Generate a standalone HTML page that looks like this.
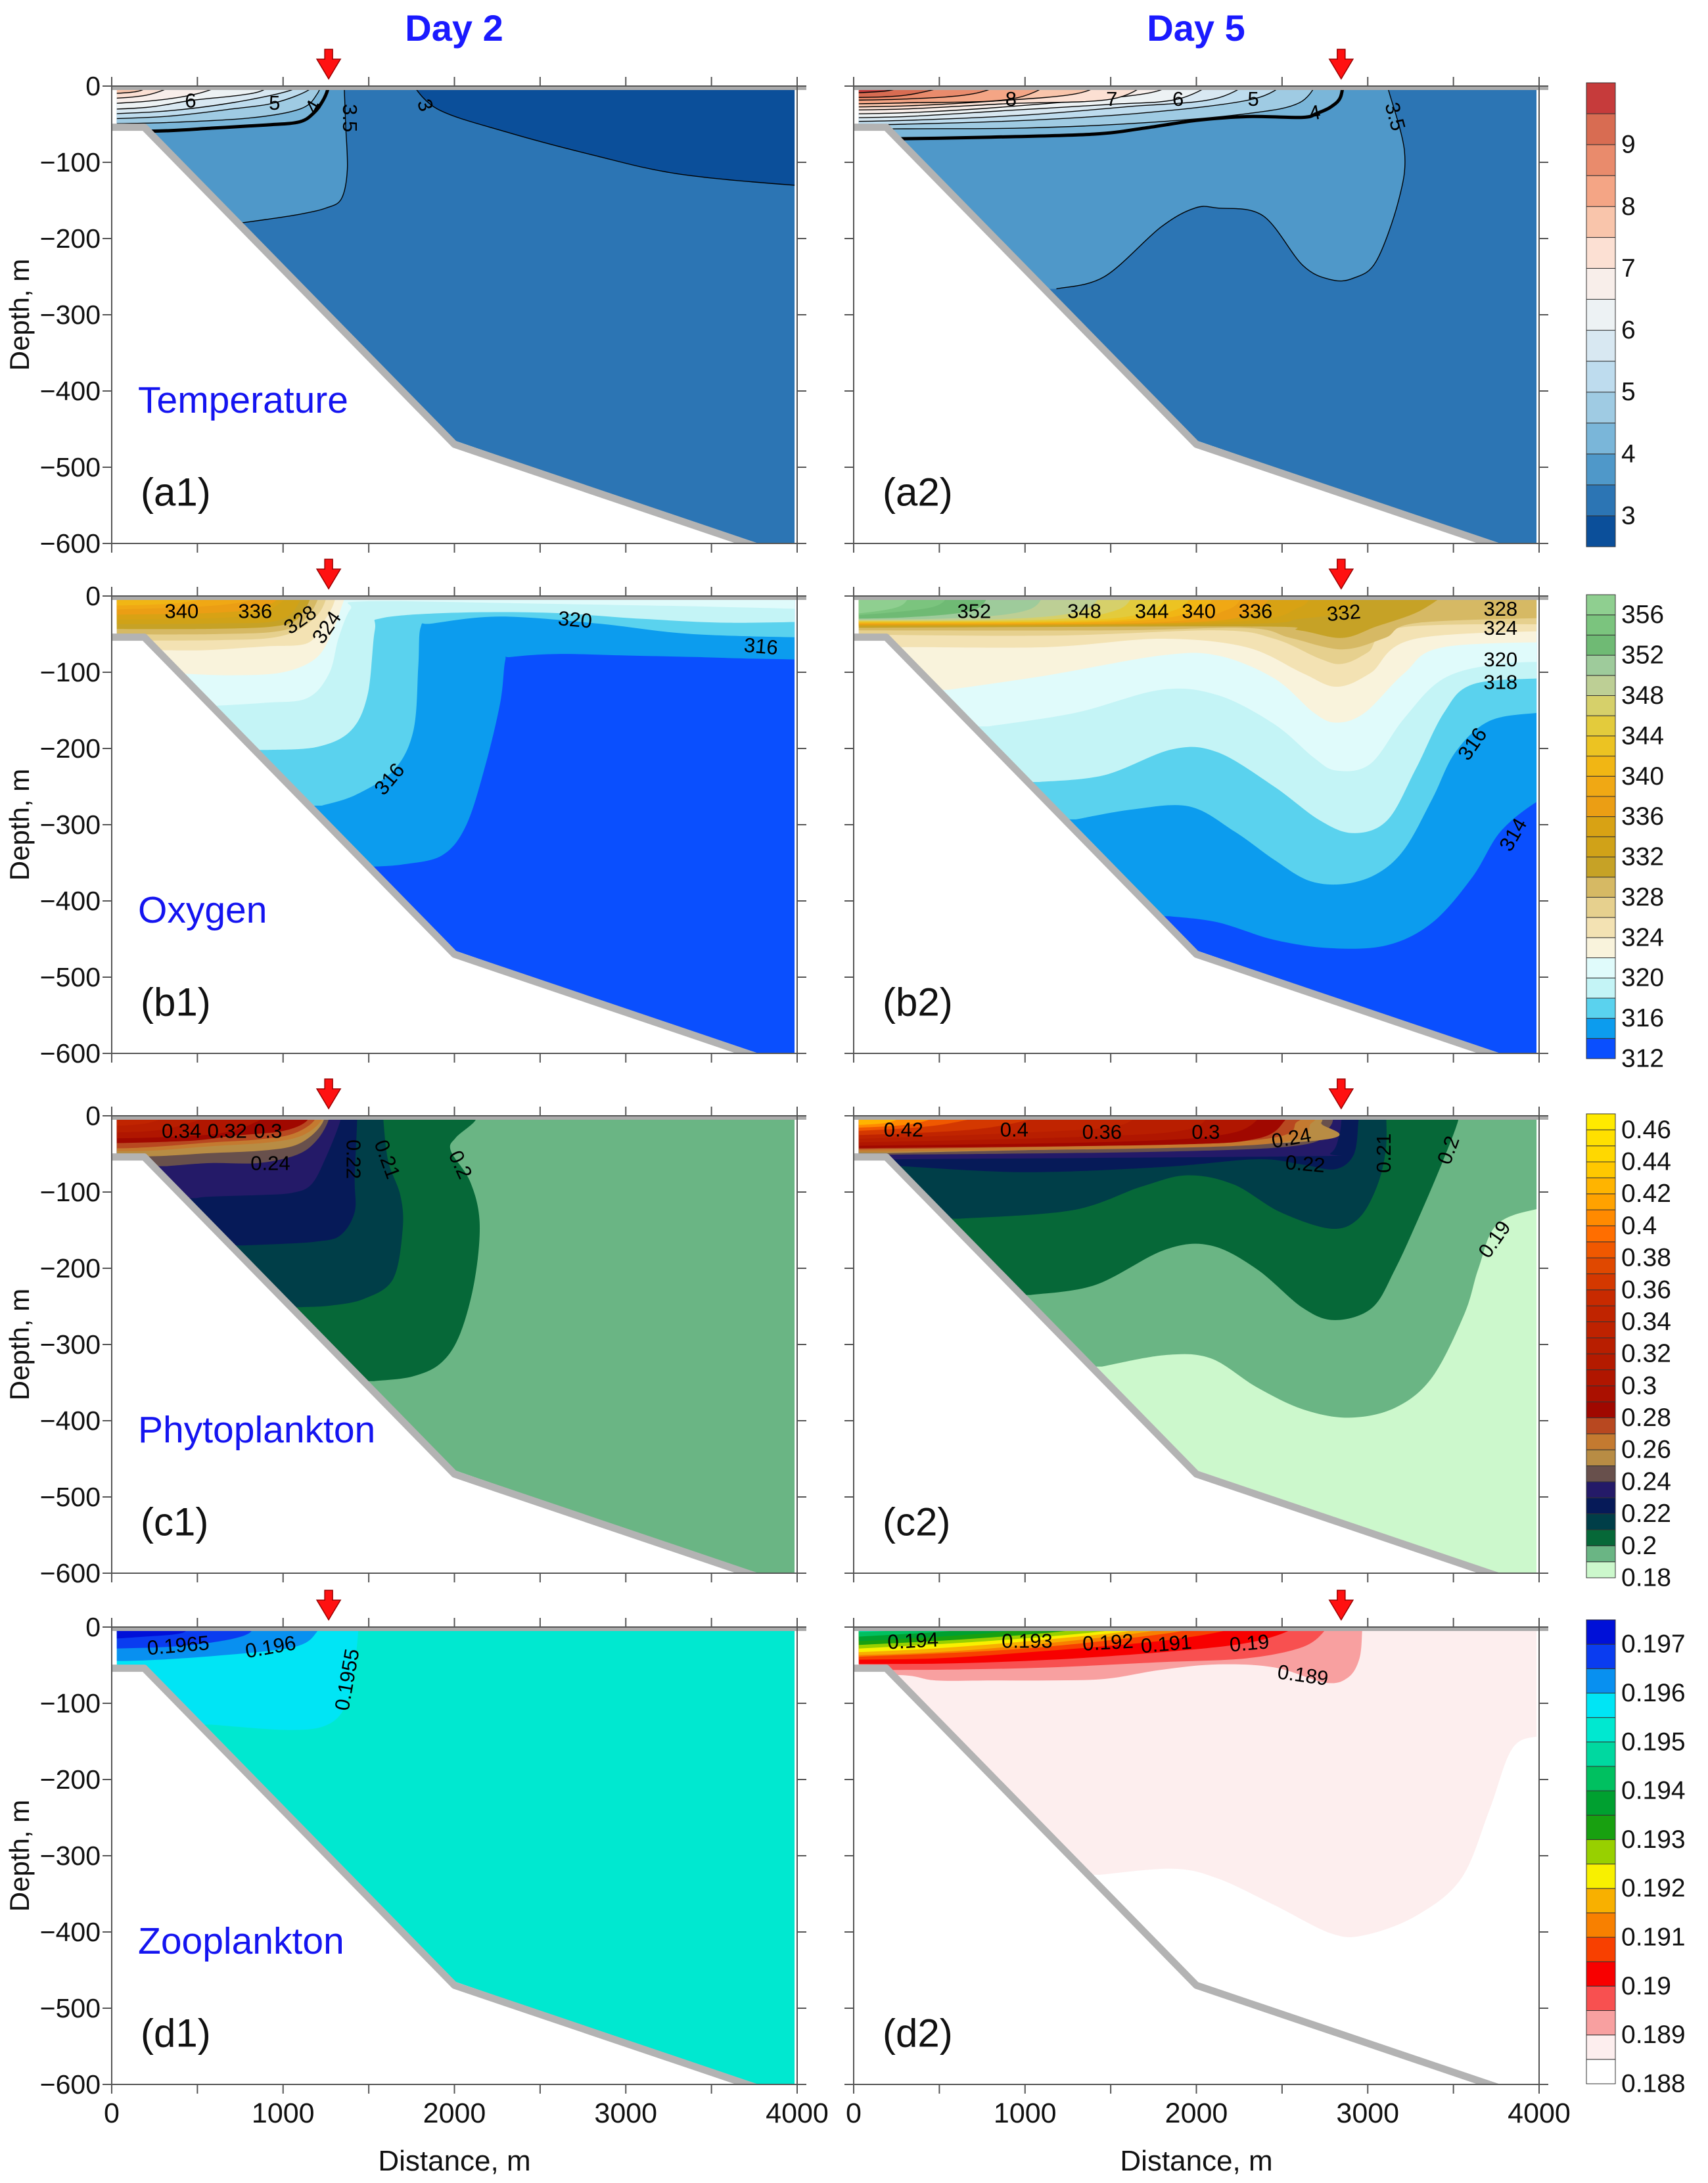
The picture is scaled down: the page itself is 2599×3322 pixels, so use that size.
<!DOCTYPE html>
<html><head><meta charset="utf-8"><title>Day 2 / Day 5 sections</title>
<style>html,body{margin:0;padding:0;background:#fff}svg{display:block;font-family:"Liberation Sans",Arial,sans-serif}</style>
</head><body>
<svg id="chart" width="2599" height="3322" viewBox="0 0 2599 3322" xmlns="http://www.w3.org/2000/svg">
<rect x="0" y="0" width="2599" height="3322" fill="#fff"/>
<text x="691" y="62" font-size="56" font-weight="bold" fill="#1a1aff" text-anchor="middle">Day 2</text>
<text x="1820" y="62" font-size="56" font-weight="bold" fill="#1a1aff" text-anchor="middle">Day 5</text>
</svg>
<script>
// ---- colour scales (bins, bottom -> top) ----
const tempColors=['#0b4f9a','#2c75b4','#4f98c9','#7ab6d9','#9fcbe3','#bedcee','#d8e8f2','#edf2f4','#f8eeea','#fce0d3','#f9c5ab','#f4a585','#e98b6c','#d86c52','#c63b3b'];
const tempTicks=[3,4,5,6,7,8,9];
const oxyColors=['#0a4ffe','#0c9cee','#5ad2ee','#c4f4f6','#e0fbfb','#f9f3dc','#f3e2b3','#e6d08e','#d6b964','#c6a226','#d0a218','#d8a214','#eb9e14','#f0a814','#f1b614','#ecc322','#e3cb3c','#d6d06a','#bdcf95','#9ecb9b','#6fba74','#7bc47e','#8fcf90'];
const oxyTicks=[312,316,320,324,328,332,336,340,344,348,352,356];
const phyColors=['#ccf8cc','#6ab584','#066838','#003e48','#061a58','#241a68','#68504c','#b88c44','#c47a30','#b84820','#a00800','#aa1000','#b01600','#b41a00','#b81e00','#be2200','#c02400','#c82a00','#d43800','#e04800','#f05800','#ff6e00','#ff8a00','#ffa200','#ffb400','#ffc800','#ffd800','#ffe000','#ffea00'];
const phyTicks=[0.18,0.2,0.22,0.24,0.26,0.28,0.3,0.32,0.34,0.36,0.38,0.4,0.42,0.44,0.46];
const zooColors=['#ffffff','#fdeeee','#f8a0a0','#f85050','#f80000','#f84000','#f88000','#f8b000','#f8f000','#98d000','#18a010','#00a030','#00c060','#00d8a0','#00e8d0','#00e5f5','#0890f0','#0a3cf0','#0010d8'];
const zooTicks=[0.188,0.189,0.19,0.191,0.192,0.193,0.194,0.195,0.196,0.197];

// ---- axes ----
const xTicks=[0,500,1000,1500,2000,2500,3000,3500,4000];
const xTickLabels=[0,1000,2000,3000,4000];
const yTicks=[0,100,200,300,400,500,600];
const waterOutline=[[30,5],[3985,5],[3985,600],[3750,600],[2000,465],[190,50],[30,50]];
const bathyLine=[[0,54],[190,54],[2000,470],[3762,604]];
const arrowDist=[1266,2845];

// ---- contour boundaries [distance m, depth m] ----
const a1Layers=[
 [2.5,'tr',[[1730,-10],[1900,30],[2300,60],[2800,90],[3300,115],[3980,130],[4200,130]]],
 [3.5,'tl',[[740,180],[900,175],[1100,168],[1250,160],[1340,148],[1375,110],[1365,50],[1355,-10]]],
 [4,'tl',[[-200,60],[270,59],[600,55],[900,51],[1095,47],[1180,35],[1230,20],[1260,5],[1270,-10]]],
 [4.5,'tl',[[-200,50],[300,48],[800,42],[1100,30],[1200,10],[1230,-10]]],
 [5,'tl',[[-200,44],[300,40],[700,30],[950,22],[1150,5],[1180,-10]]],
 [5.5,'tl',[[-200,38],[300,33],[700,22],[1050,5],[1100,-10]]],
 [6,'tl',[[-200,32],[200,28],[460,19],[850,8],[950,-10]]],
 [6.5,'tl',[[-200,25],[200,20],[500,10],[750,-10]]],
 [7,'tl',[[-200,18],[200,12],[450,-10]]],
 [7.5,'tl',[[-200,11],[150,7],[250,-10]]]
];
const a2Layers=[
 [3.5,'tl',[[1183,266],[1463,250],[1793,185],[1992,160],[2124,160],[2388,170],[2620,235],[2785,254],[2916,252],[3049,230],[3180,150],[3214,85],[3115,0],[3115,-10]]],
 [4,'tl',[[-200,70],[307,69],[800,67],[1400,63],[1700,55],[2000,45],[2300,40],[2620,41],[2700,36],[2780,28],[2840,15],[2860,-10]]],
 [4.5,'tl',[[-200,57],[300,56],[1000,55],[1700,48],[2300,36],[2600,22],[2720,-10]]],
 [5,'tl',[[-200,52],[300,50],[1000,45],[1700,35],[2332,17],[2550,-10]]],
 [5.5,'tl',[[-200,47],[300,45],[1000,38],[1600,27],[2100,17],[2350,-10]]],
 [6,'tl',[[-200,42],[300,40],[900,32],[1500,24],[1893,17],[2150,-10]]],
 [6.5,'tl',[[-200,37],[300,35],[900,27],[1700,10],[1900,-10]]],
 [7,'tl',[[-200,32],[300,30],[900,23],[1506,17],[1750,-10]]],
 [7.5,'tl',[[-200,28],[300,26],[800,20],[1300,10],[1500,-10]]],
 [8,'tl',[[-200,24],[300,22],[918,17],[1200,-10]]],
 [8.5,'tl',[[-200,19],[300,17],[700,10],[950,-10]]],
 [9,'tl',[[-200,15],[300,12],[700,-10]]],
 [9.5,'tl',[[-200,10],[200,6],[400,-10]]]
];
const b1Layers=[
 [314,'tl',[[1535,355],[1704,352],[1930,340],[2070,300],[2183,220],[2268,139],[2296,85],[2330,80],[2600,76],[3000,78],[3400,80],[3700,82],[4200,84]]],
 [316,'tl',[[1225,275],[1423,261],[1648,228],[1761,176],[1789,92],[1803,41],[1873,36],[2268,27],[2831,36],[3394,50],[4200,55]]],
 [318,'tl',[[901,202],[1197,198],[1394,177],[1493,130],[1535,45],[1577,29],[1986,22],[2549,22],[3100,30],[3600,35],[4200,33]]],
 [320,'tl',[[600,144],[900,140],[1141,134],[1268,102],[1324,55],[1394,17],[1479,7],[2500,10],[3500,14],[4200,18]]],
 [322,'tl',[[417,102],[700,104],[1000,100],[1200,80],[1300,40],[1340,15],[1380,-10]]],
 [324,'tl',[[282,71],[549,71],[900,66],[1141,62],[1230,36],[1290,13],[1320,-10]]],
 [326,'tl',[[-200,58],[600,58],[1000,52],[1200,25],[1270,-10]]],
 [328,'tl',[[-200,50],[600,50],[1000,45],[1150,25],[1230,-10]]],
 [330,'tl',[[-200,43],[600,43],[1000,38],[1120,20],[1180,-10]]],
 [332,'tl',[[-200,37],[600,36],[1000,30],[1130,-10]]],
 [334,'tl',[[-200,31],[600,29],[900,20],[1080,-10]]],
 [336,'tl',[[-200,25],[600,22],[900,13],[1030,-10]]],
 [338,'tl',[[-200,19],[500,14],[800,6],[950,-10]]],
 [340,'tl',[[-200,13],[400,9],[750,-10]]]
];
const b2Layers=[
 [314,'tl',[[1843,420],[2124,428],[2454,451],[2785,462],[3115,458],[3379,428],[3610,369],[3775,309],[4000,268],[4200,250]]],
 [316,'tl',[[1298,293],[1628,280],[1959,276],[2223,309],[2454,346],[2652,373],[2851,378],[3049,365],[3214,332],[3379,265],[3511,205],[3709,164],[4000,153],[4200,150]]],
 [318,'tl',[[1083,244],[1463,235],[1860,201],[2124,205],[2454,250],[2718,294],[2917,311],[3115,294],[3280,227],[3445,153],[3610,116],[4000,108],[4200,108]]],
 [320,'tl',[[786,171],[1298,153],[1793,123],[2124,130],[2454,168],[2685,212],[2818,229],[3016,220],[3214,160],[3445,108],[3775,89],[4200,86]]],
 [322,'tl',[[555,123],[1133,104],[1793,78],[2124,78],[2454,108],[2685,153],[2818,166],[2983,153],[3214,101],[3445,67],[4200,60]]],
 [324,'tl',[[307,67],[1133,67],[1793,56],[2289,67],[2619,101],[2818,119],[3016,101],[3280,56],[4200,45]]],
 [326,'tl',[[-200,50],[1133,52],[2124,45],[2454,56],[2718,82],[2851,89],[3000,74],[3200,41],[4200,37]]],
 [328,'tl',[[-200,45],[1500,45],[2300,42],[2550,55],[2850,70],[3100,55],[3300,35],[4200,28]]],
 [330,'tl',[[-200,42],[2300,40],[2600,45],[2850,55],[3050,40],[3300,20],[3500,-10]]],
 [332,'tl',[[-200,40],[2200,37],[2600,30],[2860,20],[2950,-10]]],
 [334,'tl',[[-200,39],[2100,35],[2600,15],[2650,-10]]],
 [336,'tl',[[-200,38],[1900,35],[2345,18],[2450,-10]]],
 [338,'tl',[[-200,37],[1700,35],[2180,18],[2280,-10]]],
 [340,'tl',[[-200,36],[1500,34],[2014,18],[2110,-10]]],
 [342,'tl',[[-200,35],[1400,33],[1880,18],[1980,-10]]],
 [344,'tl',[[-200,34],[1300,32],[1740,18],[1840,-10]]],
 [346,'tl',[[-200,33],[1100,31],[1540,18],[1640,-10]]],
 [348,'tl',[[-200,32],[900,30],[1346,18],[1450,-10]]],
 [350,'tl',[[-200,31],[600,29],[1020,18],[1120,-10]]],
 [352,'tl',[[-200,30],[300,28],[703,18],[800,-10]]],
 [354,'tl',[[-200,29],[450,15],[550,-10]]],
 [356,'tl',[[-200,28],[250,15],[330,-10]]]
];
const c1Layers=[
 [0.20,'tl',[[1530,348],[1754,342],[1923,324],[2035,285],[2119,214],[2147,139],[2091,86],[1979,46],[2007,29],[2119,7],[2140,-10]]],
 [0.21,'tl',[[1109,251],[1277,249],[1474,240],[1642,214],[1698,148],[1684,104],[1614,60],[1586,7],[1586,-10]]],
 [0.22,'tl',[[772,170],[996,168],[1193,165],[1333,157],[1418,126],[1418,82],[1432,7],[1432,-10]]],
 [0.23,'tl',[[491,108],[575,106],[856,104],[1053,101],[1165,90],[1249,55],[1333,7],[1333,-10]]],
 [0.24,'tl',[[323,66],[575,62],[856,62],[1081,51],[1193,33],[1263,7],[1263,-10]]],
 [0.25,'tl',[[-200,53],[239,53],[575,49],[856,46],[1053,40],[1165,26],[1235,7],[1240,-10]]],
 [0.26,'tl',[[-200,46],[200,46],[575,40],[912,35],[1109,26],[1221,7],[1225,-10]]],
 [0.27,'tl',[[-200,42],[150,42],[575,35],[856,31],[1053,24],[1179,7],[1180,-10]]],
 [0.28,'tl',[[-200,37],[435,33],[715,26],[996,20],[1137,7],[1140,-10]]],
 [0.30,'tl',[[-200,30],[300,28],[700,20],[1000,-10]]],
 [0.32,'tl',[[-200,22],[300,18],[700,-10]]],
 [0.34,'tl',[[-200,14],[200,10],[400,-10]]]
];
const c2Layers=[
 [0.19,'tl',[[1449,329],[1813,314],[2082,318],[2352,356],[2621,385],[2891,396],[3160,383],[3376,343],[3564,260],[3645,201],[3752,143],[3995,122],[4200,120]]],
 [0.20,'tl',[[1032,235],[1409,222],[1813,176],[2082,170],[2352,201],[2621,252],[2810,268],[3025,252],[3160,201],[3295,135],[3430,64],[3524,9],[3530,-10]]],
 [0.21,'tl',[[614,135],[1274,124],[1678,93],[1948,78],[2217,90],[2487,126],[2783,148],[2945,135],[3053,93],[3106,43],[3106,-10]]],
 [0.22,'tl',[[277,66],[1005,74],[1813,67],[2352,57],[2621,64],[2810,70],[2918,51],[2945,9],[2945,-10]]],
 [0.23,'tl',[[250,57],[2621,53],[2783,49],[2837,22],[2850,-10]]],
 [0.24,'tl',[[197,51],[1813,47],[2621,38],[2783,13],[2790,-10]]],
 [0.25,'tl',[[197,49],[2621,34],[2729,9],[2735,-10]]],
 [0.26,'tl',[[197,47],[2352,38],[2675,9],[2680,-10]]],
 [0.27,'tl',[[-200,45],[2217,34],[2594,7],[2600,-10]]],
 [0.28,'tl',[[-200,43],[1813,38],[2352,30],[2513,7],[2515,-10]]],
 [0.30,'tl',[[-200,40],[1544,34],[2217,22],[2406,-10]]],
 [0.32,'tl',[[-200,36],[1274,28],[1948,18],[2082,-10]]],
 [0.34,'tl',[[-200,32],[1005,22],[1544,13],[1678,-10]]],
 [0.36,'tl',[[-200,27],[735,17],[1274,-10]]],
 [0.38,'tl',[[-200,22],[466,13],[951,-10]]],
 [0.40,'tl',[[-200,17],[331,11],[601,-10]]],
 [0.42,'tl',[[-200,13],[197,9],[331,-10]]],
 [0.44,'tl',[[-200,9],[100,-10]]]
];
const d1Layers=[
 [0.1955,'tl',[[582,128],[1034,135],[1260,128],[1373,99],[1422,40],[1438,7],[1440,-10]]],
 [0.196,'tl',[[-200,44],[162,44],[646,37],[1066,26],[1195,7],[1200,-10]]],
 [0.1965,'tl',[[-200,29],[323,26],[646,18],[808,7],[810,-10]]],
 [0.197,'tl',[[-200,18],[162,13],[420,7],[425,-10]]]
];
const d2Layers=[
 [0.1885,'tl',[[1435,325],[1863,317],[2127,330],[2457,365],[2787,402],[2985,404],[3281,379],[3545,330],[3710,240],[3842,160],[4000,143],[4200,140]]],
 [0.189,'tl',[[-200,63],[280,63],[478,70],[808,70],[1138,70],[1468,68],[1797,56],[2127,49],[2457,53],[2754,73],[2886,66],[2952,41],[2968,3],[2970,-10]]],
 [0.1895,'tl',[[-200,56],[478,56],[1138,53],[1797,46],[2292,41],[2622,26],[2754,3],[2756,-10]]],
 [0.19,'tl',[[-200,48],[478,48],[1138,43],[1797,33],[2292,21],[2556,3],[2558,-10]]],
 [0.1905,'tl',[[-200,43],[478,41],[1138,31],[1797,18],[2193,3],[2195,-10]]],
 [0.191,'tl',[[-200,41],[808,31],[1468,18],[1962,3],[1965,-10]]],
 [0.1915,'tl',[[-200,38],[478,33],[1138,21],[1797,3],[1800,-10]]],
 [0.192,'tl',[[-200,35],[478,28],[1138,16],[1665,3],[1667,-10]]],
 [0.1925,'tl',[[-200,31],[808,18],[1534,3],[1536,-10]]],
 [0.193,'tl',[[-200,26],[643,16],[1303,3],[1305,-10]]],
 [0.1935,'tl',[[-200,21],[478,13],[973,3],[975,-10]]],
 [0.194,'tl',[[-200,15],[148,11],[643,3],[645,-10]]],
 [0.1945,'tl',[[-200,8],[313,3],[315,-10]]]
];
// contour labels [text, distance, depth, rotation]
const a1Labels=[['6',460,19,0],['5',950,22,0],['4',1175,27,-60],['3.5',1390,42,90],['3',1830,25,70]];
const a2Labels=[['8',918,17,0],['7',1506,17,0],['6',1893,17,0],['5',2332,17,0],['4',2690,35,-10],['3.5',3160,40,75]];
const b1Labels=[['340',408,20,0],['336',837,20,0],['328',1099,31,-35],['324',1254,41,-55],['320',2704,31,5],['316',3789,66,5],['316',1620,240,-50]];
const b2Labels=[['352',703,20,0],['348',1346,20,0],['344',1740,20,0],['340',2014,20,0],['336',2345,20,0],['332',2860,22,-5],['328',3775,17,0],['324',3775,42,0],['320',3775,83,0],['318',3775,113,0],['316',3610,194,-55],['314',3848,313,-60]];
const c1Labels=[['0.34',407,20,0],['0.32',674,20,0],['0.3',912,20,0],['0.24',926,62,0],['0.22',1412,57,90],['0.21',1608,57,70],['0.2',2035,64,65]];
const c2Labels=[['0.42',291,18,0],['0.4',937,18,0],['0.36',1449,21,0],['0.3',2055,21,0],['0.24',2554,29,-10],['0.22',2635,63,5],['0.21',3093,49,-90],['0.2',3470,45,-70],['0.19',3739,162,-55]];
const d1Labels=[['0.1965',388,24,-5],['0.196',927,26,-10],['0.1955',1373,69,-80]];
const d2Labels=[['0.194',346,18,-3],['0.193',1012,18,0],['0.192',1484,20,-3],['0.191',1824,22,-5],['0.19',2309,21,-5],['0.189',2622,63,8]];

const NS='http://www.w3.org/2000/svg';
const svg=document.getElementById('chart');
const X0=[170,1299], Y0=[131,907,1698,2476], PW=1043, PH=696;
function mk(tag,attrs,parent){const e=document.createElementNS(NS,tag);for(const k in attrs)e.setAttribute(k,attrs[k]);(parent||svg).appendChild(e);return e;}
function xs(m,c){return X0[c]+m/4000*PW;}
function ys(d,r){return Y0[r]+d/600*PH;}
function ptsStr(arr,c,r){return arr.map(p=>xs(p[0],c).toFixed(1)+','+ys(p[1],r).toFixed(1)).join(' ');}
// smooth Catmull-Rom path through screen points
function smoothD(arr,c,r){
 const P=arr.map(p=>[xs(p[0],c),ys(p[1],r)]);
 let d='M'+P[0][0].toFixed(1)+','+P[0][1].toFixed(1);
 for(let i=0;i<P.length-1;i++){
  const p0=P[Math.max(0,i-1)],p1=P[i],p2=P[i+1],p3=P[Math.min(P.length-1,i+2)];
  const c1x=p1[0]+(p2[0]-p0[0])/6,c1y=p1[1]+(p2[1]-p0[1])/6;
  const c2x=p2[0]-(p3[0]-p1[0])/6,c2y=p2[1]-(p3[1]-p1[1])/6;
  d+=' C'+c1x.toFixed(1)+','+c1y.toFixed(1)+' '+c2x.toFixed(1)+','+c2y.toFixed(1)+' '+p2[0].toFixed(1)+','+p2[1].toFixed(1);
 }
 return d;
}

const scales={
 temp:{vmin:2.5,step:0.5,colors:tempColors,ticks:tempTicks,fmt:v=>String(v)},
 oxy:{vmin:312,step:2,colors:oxyColors,ticks:oxyTicks,fmt:v=>String(v)},
 phy:{vmin:0.18,step:0.01,colors:phyColors,ticks:phyTicks,fmt:v=>String(+v.toFixed(2))},
 zoo:{vmin:0.188,step:0.0005,colors:zooColors,ticks:zooTicks,fmt:v=>String(+v.toFixed(3))}
};
function colorOf(s,v){const i=Math.round((v-s.vmin)/s.step);return s.colors[Math.max(0,Math.min(s.colors.length-1,i))];}

const panels=[
 {id:'a1',c:0,r:0,s:'temp',base:3,layers:a1Layers,labels:a1Labels,lines:true,name:'Temperature'},
 {id:'a2',c:1,r:0,s:'temp',base:3,layers:a2Layers,labels:a2Labels,lines:true},
 {id:'b1',c:0,r:1,s:'oxy',base:312,layers:b1Layers,labels:b1Labels,name:'Oxygen'},
 {id:'b2',c:1,r:1,s:'oxy',base:312,layers:b2Layers,labels:b2Labels},
 {id:'c1',c:0,r:2,s:'phy',base:0.19,layers:c1Layers,labels:c1Labels,name:'Phytoplankton'},
 {id:'c2',c:1,r:2,s:'phy',base:0.18,layers:c2Layers,labels:c2Labels},
 {id:'d1',c:0,r:3,s:'zoo',base:0.195,layers:d1Layers,labels:d1Labels,name:'Zooplankton'},
 {id:'d2',c:1,r:3,s:'zoo',base:0.188,layers:d2Layers,labels:d2Labels}
];
const defs=mk('defs',{});



panels.forEach(P=>{
 const c=P.c,r=P.r,S=scales[P.s];
 const g=mk('g',{});
 
 
 const cp=mk('clipPath',{id:'clip-'+P.id},defs);
 
 
 const cpp=mk('polygon',{points:ptsStr(waterOutline,c,r)},cp);
 
 
 const wg=mk('g',{'clip-path':'url(#clip-'+P.id+')'},g);
 
 
 const base=mk('polygon',{points:ptsStr(waterOutline,c,r),fill:colorOf(S,P.base)},wg);
 
 
 P.layers.forEach(L=>{
  const v=L[0],mode=L[1],pts=L[2];
  const first=pts[0],last=pts[pts.length-1];
  let tail;
  if(mode==='tr') tail=[[4200,-50],[first[0],-50]];
  else tail=[[last[0],-50],[-200,-50],[-200,first[1]]];
  const d=smoothD(pts,c,r)+' '+tail.map(p=>'L'+xs(p[0],c).toFixed(1)+','+ys(p[1],r).toFixed(1)).join(' ')+' Z';
  const band=mk('path',{d:d,fill:colorOf(S,v)},wg);
  
  
  if(P.lines){
   const ln=mk('path',{d:smoothD(pts,c,r),fill:'none',stroke:'#000','stroke-width':(v===4?5:1.4)},wg);
   
   
  }
 });
 // contour labels
 P.labels.forEach(Lb=>{
  const x=xs(Lb[1],c),y=ys(Lb[2],r);
  const t=mk('text',{x:x,y:y,'font-size':31,'text-anchor':'middle','dominant-baseline':'central',fill:'#000',transform:'rotate('+Lb[3]+' '+x+' '+y+')'},g);
  t.textContent=Lb[0];
  
  
 });
 // bathymetry
 const gb=mk('g',{},g);
 
 
 const cp2=mk('clipPath',{id:'frame-'+P.id},defs);
 
 
 const fr=mk('rect',{x:X0[c],y:Y0[r]-10,width:PW,height:PH+10},cp2);
 
 
 const bl=mk('polyline',{points:ptsStr(bathyLine,c,r),fill:'none',stroke:'#b3b3b3','stroke-width':11,'stroke-linejoin':'round','clip-path':'url(#frame-'+P.id+')'},gb);
 
 
 const surf=mk('rect',{x:X0[c],y:Y0[r]-1,width:PW+14,height:7,fill:'#ababab'},gb);
 
 
 // axes frame
 const ax=mk('g',{stroke:'#555','stroke-width':2,fill:'none'},g);
 
 
 const frame=mk('rect',{x:X0[c],y:Y0[r],width:PW,height:PH},ax);
 
 
 xTicks.forEach(m=>{
  const x=xs(m,c);
  const t1=mk('line',{x1:x,x2:x,y1:Y0[r],y2:Y0[r]-14},ax);
  
  
  const t2=mk('line',{x1:x,x2:x,y1:Y0[r]+PH,y2:Y0[r]+PH+14},ax);
  
  
 });
 yTicks.forEach(d=>{
  const y=ys(d,r);
  const t1=mk('line',{x1:X0[c]-14,x2:X0[c],y1:y,y2:y},ax);
  
  
  const t2=mk('line',{x1:X0[c]+PW,x2:X0[c]+PW+14,y1:y,y2:y},ax);
  
  
  if(c===0){
   const tl=mk('text',{x:X0[c]-17,y:y,'font-size':41,'text-anchor':'end','dominant-baseline':'central',fill:'#111',stroke:'none'},g);
   tl.textContent=d===0?'0':'\u2212'+d;
   
   
  }
 });
 if(r===3){
  xTickLabels.forEach(m=>{
   const tl=mk('text',{x:xs(m,c),y:Y0[r]+PH+58,'font-size':43,'text-anchor':'middle',fill:'#111'},g);
   tl.textContent=String(m);
   
   
  });
  const xt=mk('text',{x:X0[c]+PW/2,y:3303,'font-size':44,'text-anchor':'middle',fill:'#111'},g);
  xt.textContent='Distance, m';
  
  
 }
 if(c===0){
  const yc=Y0[r]+PH/2;
  const yt=mk('text',{x:44,y:yc,'font-size':42,'text-anchor':'middle',fill:'#111',transform:'rotate(-90 44 '+yc+')'},g);
  yt.textContent='Depth, m';
  
  
  const nm=mk('text',{x:X0[c]+40,y:Y0[r]+478,'font-size':57,'dominant-baseline':'central',fill:'#1414f0'},g);
  nm.textContent=P.name;
  
  
 }
 const pl=mk('text',{x:X0[c]+44,y:Y0[r]+618,'font-size':60,'dominant-baseline':'central',fill:'#111'},g);
 pl.textContent='('+P.id+')';
 
 
 // arrow
 const ax0=xs(arrowDist[c],c), ay=Y0[r];
 const ar=mk('polygon',{points:[[ax0-6,ay-56],[ax0+6,ay-56],[ax0+6,ay-41],[ax0+18,ay-41],[ax0,ay-11],[ax0-18,ay-41],[ax0-6,ay-41]].map(p=>p.join(',')).join(' '),fill:'#ff1111',stroke:'#990000','stroke-width':1.5},g);
 
 
});

// colorbars
const cbs=[{s:'temp',top:126,bot:832},{s:'oxy',top:905,bot:1611},{s:'phy',top:1695,bot:2401},{s:'zoo',top:2465,bot:3171}];
cbs.forEach(cb=>{
 const S=scales[cb.s], n=S.colors.length, bh=(cb.bot-cb.top)/n;
 const g=mk('g',{});
 
 
 S.colors.forEach((col,i)=>{
  const rc=mk('rect',{x:2414,y:cb.bot-(i+1)*bh,width:44,height:bh,fill:col,stroke:'#333','stroke-width':1},g);
  
  
 });
 S.ticks.forEach(v=>{
  const y=cb.bot-(v-S.vmin)/S.step*bh;
  const t=mk('text',{x:2467,y:y,'font-size':39,'dominant-baseline':'central',fill:'#111'},g);
  t.textContent=S.fmt(v);
  
  
 });
});
</script>
</body></html>
